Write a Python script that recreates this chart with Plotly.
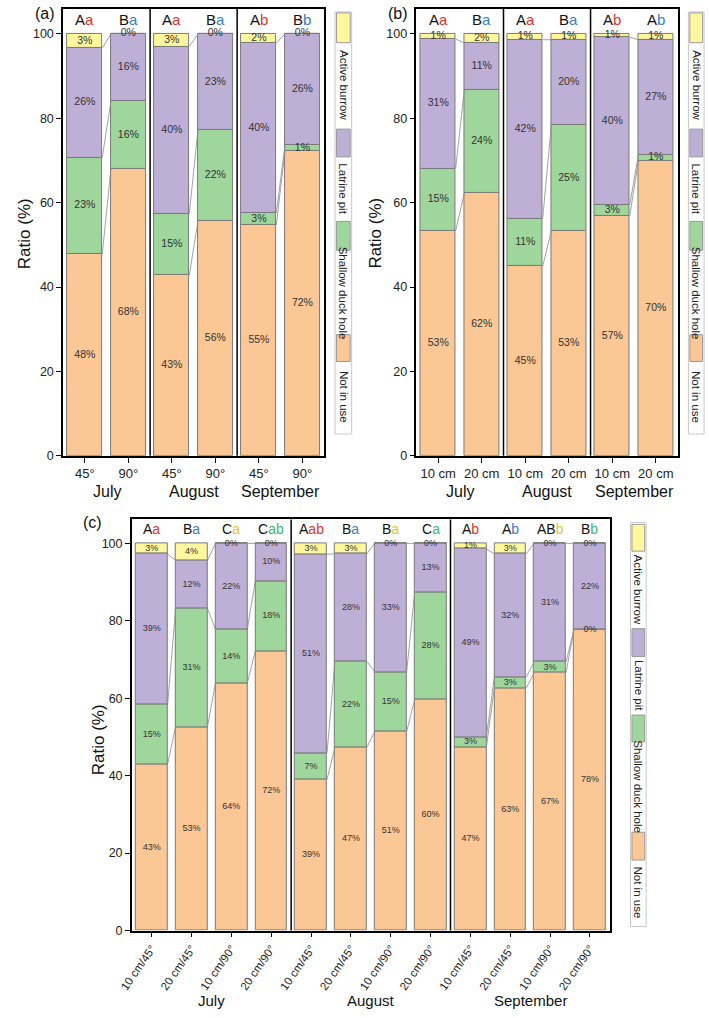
import plotly.graph_objects as go

W, H = 709, 1018
FONT = "Liberation Sans, Arial, sans-serif"

CATS = ["Not in use", "Shallow duck hole", "Latrine pit", "Active burrow"]
COLORS = ["#FBC794", "#9ED69C", "#BEAFD7", "#FFF79E"]
MONTHS = ["July", "August", "September"]

# ---------------- panel (a) ----------------
a_ticks = ["45°", "90°", "45°", "90°", "45°", "90°"]
a_not = [47.8, 68.0, 42.8, 55.6, 54.7, 72.3]
a_shallow = [22.9, 16.0, 14.6, 21.6, 2.9, 1.3]
a_latrine = [25.9, 16.0, 39.6, 22.8, 40.2, 26.4]
a_active = [3.4, 0.0, 3.0, 0.0, 2.2, 0.0]
a_upper = ["A", "B", "A", "B", "A", "B"]
a_lower = ["a", "a", "a", "a", "b", "b"]

# ---------------- panel (b) ----------------
b_ticks = ["10 cm", "20 cm", "10 cm", "20 cm", "10 cm", "20 cm"]
b_not = [53.3, 62.3, 44.9, 53.3, 56.8, 70.0]
b_shallow = [14.8, 24.4, 11.3, 25.1, 2.7, 1.3]
b_latrine = [30.7, 11.1, 42.4, 20.2, 39.7, 27.3]
b_active = [1.2, 2.2, 1.4, 1.4, 0.8, 1.4]
b_upper = ["A", "B", "A", "B", "A", "A"]
b_lower = ["a", "a", "a", "a", "b", "b"]

# ---------------- panel (c) ----------------
c_ticks = ["10 cm/45°", "20 cm/45°", "10 cm/90°", "20 cm/90°"] * 3
c_not = [43.0, 52.6, 63.9, 72.2, 39.0, 47.3, 51.4, 59.7, 47.3, 62.6, 66.6, 77.8]
c_shallow = [15.4, 30.6, 13.9, 18.1, 6.8, 22.2, 15.4, 27.7, 2.7, 2.8, 2.8, 0.0]
c_latrine = [38.9, 12.4, 22.2, 9.7, 51.4, 27.8, 33.2, 12.6, 48.6, 31.9, 30.6, 22.2]
c_active = [2.7, 4.4, 0.0, 0.0, 2.8, 2.7, 0.0, 0.0, 1.4, 2.7, 0.0, 0.0]
c_upper = ["A", "B", "C", "C", "A", "B", "B", "C", "A", "A", "AB", "B"]
c_lower = ["a", "a", "a", "ab", "ab", "a", "a", "a", "b", "b", "b", "b"]

LETTER_COLORS_2 = ["#E5322B", "#3B7DBE"]
LETTER_COLORS_4 = ["#E5322B", "#3B7DBE", "#F2C12E", "#3CB878"]


def px(x):
    return x / W


def py(y):
    return 1 - y / H


fig = go.Figure()
annotations = []
shapes = []


def panel(ax, series, ticks, upper, lower, per_group, lcolors,
          xdom_px, ydom_px, ymax, pct_size, tick_size, tickangle,
          month_y_px, month_size, letter_y, letter_size):
    xa = "x" if ax == 1 else f"x{ax}"
    ya = "y" if ax == 1 else f"y{ax}"
    n = len(ticks)
    xs = [i + 0.5 for i in range(n)]
    bw = 0.8
    base = [0.0] * n
    cums = []
    for vals, col in zip(series, COLORS):
        fig.add_trace(go.Bar(x=xs, y=vals, base=base[:], width=bw,
                             marker=dict(color=col, line=dict(color="#7a7a7a", width=1)),
                             xaxis=xa, yaxis=ya, showlegend=False, hoverinfo="skip"))
        mids = [b + v / 2 for b, v in zip(base, vals)]
        fig.add_trace(go.Scatter(x=xs, y=mids, mode="text",
                                 text=[f"{round(v)}%" for v in vals],
                                 textfont=dict(size=pct_size, color="#333333", family=FONT),
                                 xaxis=xa, yaxis=ya, showlegend=False, hoverinfo="skip",
                                 cliponaxis=False))
        base = [b + v for b, v in zip(base, vals)]
        cums.append(base[:])
    # connecting lines within month groups
    lx, ly = [], []
    for lev in cums[:3]:
        for i in range(n - 1):
            if (i + 1) % per_group == 0:
                continue
            lx += [xs[i] + bw / 2, xs[i + 1] - bw / 2, None]
            ly += [lev[i], lev[i + 1], None]
    fig.add_trace(go.Scatter(x=lx, y=ly, mode="lines",
                             line=dict(color="#8a8a8a", width=0.8),
                             xaxis=xa, yaxis=ya, showlegend=False, hoverinfo="skip"))
    xkey = "xaxis" if ax == 1 else f"xaxis{ax}"
    ykey = "yaxis" if ax == 1 else f"yaxis{ax}"
    fig.update_layout(**{
        xkey: dict(domain=[px(xdom_px[0]), px(xdom_px[1])], range=[0, n],
                   anchor=ya, tickvals=xs, ticktext=ticks, ticks="outside",
                   ticklen=5, tickwidth=1.2, tickcolor="black",
                   tickangle=tickangle,
                   tickfont=dict(size=tick_size, color="#222", family=FONT),
                   showline=True, mirror=True, linecolor="black", linewidth=1.5,
                   showgrid=False, zeroline=False, fixedrange=True),
        ykey: dict(domain=[py(ydom_px[1]), py(ydom_px[0])], range=[0, ymax],
                   anchor=xa, tickvals=[0, 20, 40, 60, 80, 100], ticks="outside",
                   ticklen=5, tickwidth=1.2, tickcolor="black",
                   tickfont=dict(size=12.5, color="#222", family=FONT),
                   showline=True, mirror=True, linecolor="black", linewidth=1.5,
                   showgrid=False, zeroline=False, fixedrange=True),
    })
    for g in range(1, 3):
        shapes.append(dict(type="line", xref=xa, yref=f"{ya} domain",
                           x0=g * per_group, x1=g * per_group, y0=0, y1=1,
                           line=dict(color="black", width=1.5)))
    for g, m in enumerate(MONTHS):
        annotations.append(dict(text=m, xref=xa, yref="paper",
                                x=g * per_group + per_group / 2, y=py(month_y_px),
                                showarrow=False, yanchor="middle",
                                font=dict(size=month_size, color="#111", family=FONT)))
    for i in range(n):
        c = lcolors[i % per_group]
        annotations.append(dict(text=f"{upper[i]}<span style='color:{c}'>{lower[i]}</span>",
                                xref=xa, yref=ya, x=xs[i], y=letter_y,
                                showarrow=False, yanchor="middle",
                                font=dict(size=letter_size, color="#111", family=FONT)))


def legend(x0, x1, top, bottom, items):
    shapes.append(dict(type="rect", xref="paper", yref="paper",
                       x0=px(x0), x1=px(x1), y0=py(bottom), y1=py(top),
                       line=dict(color="#c8c8c8", width=1), fillcolor="white"))
    for (name, col, s0, s1, tc) in items:
        shapes.append(dict(type="rect", xref="paper", yref="paper",
                           x0=px(x0 + 1.5), x1=px(x1 - 1.5), y0=py(s1), y1=py(s0),
                           line=dict(color="#9a9a9a", width=1), fillcolor=col))
        annotations.append(dict(text=name, xref="paper", yref="paper",
                                x=px((x0 + x1) / 2), y=py(tc), textangle=90,
                                showarrow=False, xanchor="center", yanchor="middle",
                                font=dict(size=11.5, color="#222", family=FONT)))


panel(1, [a_not, a_shallow, a_latrine, a_active], a_ticks, a_upper, a_lower, 2,
      LETTER_COLORS_2, (51, 317), (9, 459), 105.9, 10.5, 13, 0, 495, 16, 103.3, 15)
panel(2, [b_not, b_shallow, b_latrine, b_active], b_ticks, b_upper, b_lower, 2,
      LETTER_COLORS_2, (411, 677), (9, 459), 105.9, 10.5, 13, 0, 495, 16, 103.3, 15)
panel(3, [c_not, c_shallow, c_latrine, c_active], c_ticks, c_upper, c_lower, 4,
      LETTER_COLORS_4, (121, 608), (523, 937), 106.2, 9, 11.5, -55, 1007, 15, 103.6, 14)

leg_ab = [(CATS[3], COLORS[3], 13, 43, 86), (CATS[2], COLORS[2], 130, 158, 190),
          (CATS[1], COLORS[1], 223, 252, 295), (CATS[0], COLORS[0], 337, 364, 400)]
legend(328, 345, 12, 437, leg_ab)
legend(688, 704, 12, 437, leg_ab)
leg_c = [(CATS[3], COLORS[3], 528, 555, 594), (CATS[2], COLORS[2], 633, 661, 690),
         (CATS[1], COLORS[1], 720, 747, 792), (CATS[0], COLORS[0], 838, 866, 899)]
legend(629, 645, 526, 933, leg_c)

for tag, x, y in [("(a)", 33, 14), ("(b)", 392, 14), ("(c)", 81, 526)]:
    annotations.append(dict(text=tag, xref="paper", yref="paper", x=px(x), y=py(y),
                            showarrow=False, xanchor="center", yanchor="middle",
                            font=dict(size=16, color="#111", family=FONT)))
for x, y in [(12, 235), (369, 235), (87, 745)]:
    annotations.append(dict(text="Ratio (%)", xref="paper", yref="paper", x=px(x), y=py(y),
                            showarrow=False, textangle=-90, xanchor="center", yanchor="middle",
                            font=dict(size=17, color="#111", family=FONT)))

fig.update_layout(width=W, height=H, margin=dict(l=0, r=0, t=0, b=0),
                  paper_bgcolor="white", plot_bgcolor="white",
                  barmode="overlay", bargap=0, showlegend=False,
                  annotations=annotations, shapes=shapes,
                  font=dict(family=FONT))

fig.write_html("out.html")
